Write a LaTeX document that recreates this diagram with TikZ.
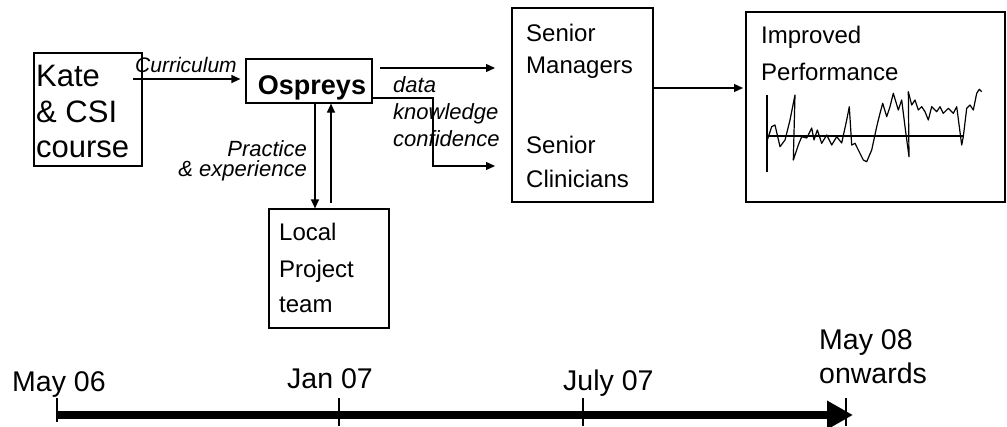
\documentclass[tikz,border=0pt]{standalone}
\usepackage{fontspec}
\setmainfont{Liberation Sans}
\usetikzlibrary{arrows.meta}

\newcommand{\fs}[1]{\fontsize{#1}{#1}\selectfont}

\tikzset{
  box/.style={draw, line width=1.2pt, rectangle, inner sep=0pt},
  conn/.style={line width=1.2pt, -{Triangle[length=9pt,width=8pt]}},
  plain/.style={line width=1.2pt},
  txt/.style={inner sep=0pt, anchor=base west},
  rtxt/.style={inner sep=0pt, anchor=base east},
  big/.style={font=\fs{31}},
  mid/.style={font=\fs{24}},
  lab/.style={font=\fs{22}\itshape},
  when/.style={font=\fs{28.5}},
  tick/.style={line width=1.5pt},
}

\begin{document}
\begin{tikzpicture}[x=1pt, y=-1pt]
\useasboundingbox (0,0) rectangle (1007,426);

% ---- boxes ----
\node[box, minimum width=108pt, minimum height=113pt] (kate) at (88,109.5) {};
\node[box, minimum width=126pt, minimum height=44pt]  (osp)  at (309,81) {};
\node[box, minimum width=120pt, minimum height=119pt] (loc)  at (329,268.5) {};
\node[box, minimum width=141pt, minimum height=194pt] (sen)  at (582.5,105) {};
\node[box, minimum width=259pt, minimum height=190pt] (imp)  at (875.5,107) {};

% ---- box texts ----
\node[txt, big] (k1) at (36,86)  {Kate};
\node[txt, big] (k2) at (36,122) {\& CSI};
\node[txt, big] (k3) at (36,157) {course};

\node[inner sep=0pt, anchor=base, font=\fs{27}\bfseries] (ot) at (312,94) {Ospreys};

\node[txt, mid] (l1) at (279,240) {Local};
\node[txt, mid] (l2) at (279,277) {Project};
\node[txt, mid] (l3) at (279,312) {team};

\node[txt, mid] (s1) at (526,41)  {Senior};
\node[txt, mid] (s2) at (526,73)  {Managers};
\node[txt, mid] (s3) at (526,153) {Senior};
\node[txt, mid] (s4) at (526,187) {Clinicians};

\node[txt, mid] (i1) at (761,43) {Improved};
\node[txt, mid] (i2) at (761,80) {Performance};

% ---- connectors ----
\coordinate (cur-s) at (133,79);
\draw[conn] (cur-s) -- ([xshift=-5pt]osp.west |- cur-s);
\node[txt, font=\fs{21}\itshape] (curl) at (135,72) {Curriculum};

\coordinate (dn) at (315,0);
\coordinate (up-s) at (331,203);
\draw[conn] (osp.south -| dn) -- (loc.north -| dn);
\draw[conn] (up-s) -- (osp.south -| up-s);
\node[rtxt, lab] (pr1) at (307,156) {Practice};
\node[rtxt, lab] (pr2) at (307,176) {\& experience};

\coordinate (ra-s) at (380,68);
\coordinate (ra-e) at (495,68);
\coordinate (rb-k) at (433,98);
\coordinate (rb-e) at (495,166);
\draw[conn] (ra-s) -- (ra-e);
\draw[conn] (osp.east |- rb-k) -- (rb-k) |- (rb-e);
\node[txt, lab] (d1) at (393,92)  {data};
\node[txt, lab] (d2) at (393,119) {knowledge};
\node[txt, lab] (d3) at (393,146) {confidence};

\coordinate (si) at (743,88);
\draw[conn] (sen.east |- si) -- (si);

% ---- performance chart ----
\coordinate (ax-top) at (767,95);
\coordinate (ax-bot) at (767,172);
\coordinate (base-r) at (964,136);
\draw[plain] (ax-top) -- (ax-bot);
\draw[plain] (ax-top |- base-r) -- (base-r);
\draw[plain, line join=round] (767.3,140) -- (771.7,126.7) -- (775,125) -- (780,146.7)
  -- (785,140) -- (790,120) -- (795,95) -- (793.3,160) -- (798.3,145) -- (801.7,136.7)
  -- (806.7,138) -- (811.7,128) -- (814,140) -- (817.3,130) -- (821.7,143.3)
  -- (826.7,135) -- (831.7,145) -- (836.7,136.7) -- (841.7,143) -- (846.7,120)
  -- (849.3,106.7) -- (851.7,145) -- (855,143.3) -- (858.3,150) -- (863.3,160)
  -- (866.7,161.7) -- (871.7,150) -- (876.7,126.7) -- (880,113.3) -- (882.7,103.3)
  -- (886.7,116.7) -- (890,106.7) -- (893.3,93.3) -- (898.3,110) -- (901.7,100)
  -- (905,126.7) -- (909,156.7) -- (908.3,91.7) -- (911.7,105) -- (915,100)
  -- (918.3,110) -- (921.7,106.7) -- (925,111.7) -- (928.3,120) -- (931.7,106.7)
  -- (936.7,111.7) -- (940,106.7) -- (943.3,113.3) -- (948.3,108.3) -- (953.3,113.3)
  -- (956.7,106.7) -- (961.7,145) -- (963.3,136.7) -- (966.7,108.3) -- (970,105)
  -- (973.3,110) -- (976.7,93.3) -- (979.3,89.3) -- (981.7,91.7);

% ---- timeline ----
\coordinate (t0) at (57,415);
\coordinate (t1) at (853,415);
\draw[line width=8pt, -{Triangle[length=26pt,width=27pt]}] (t0) -- (t1);
\foreach \x/\b in {57/422, 339/426, 583/426, 846/426}
  \draw[tick] (\x,398) -- (\x,\b);

\node[txt, when] (m1) at (12,391)  {May 06};
\node[txt, when] (m2) at (287,388) {Jan 07};
\node[txt, when] (m3) at (563,390) {July 07};
\node[txt, when] (m4) at (819,349) {May 08};
\node[txt, when] (m5) at (819,383) {onwards};
\end{tikzpicture}
\end{document}
